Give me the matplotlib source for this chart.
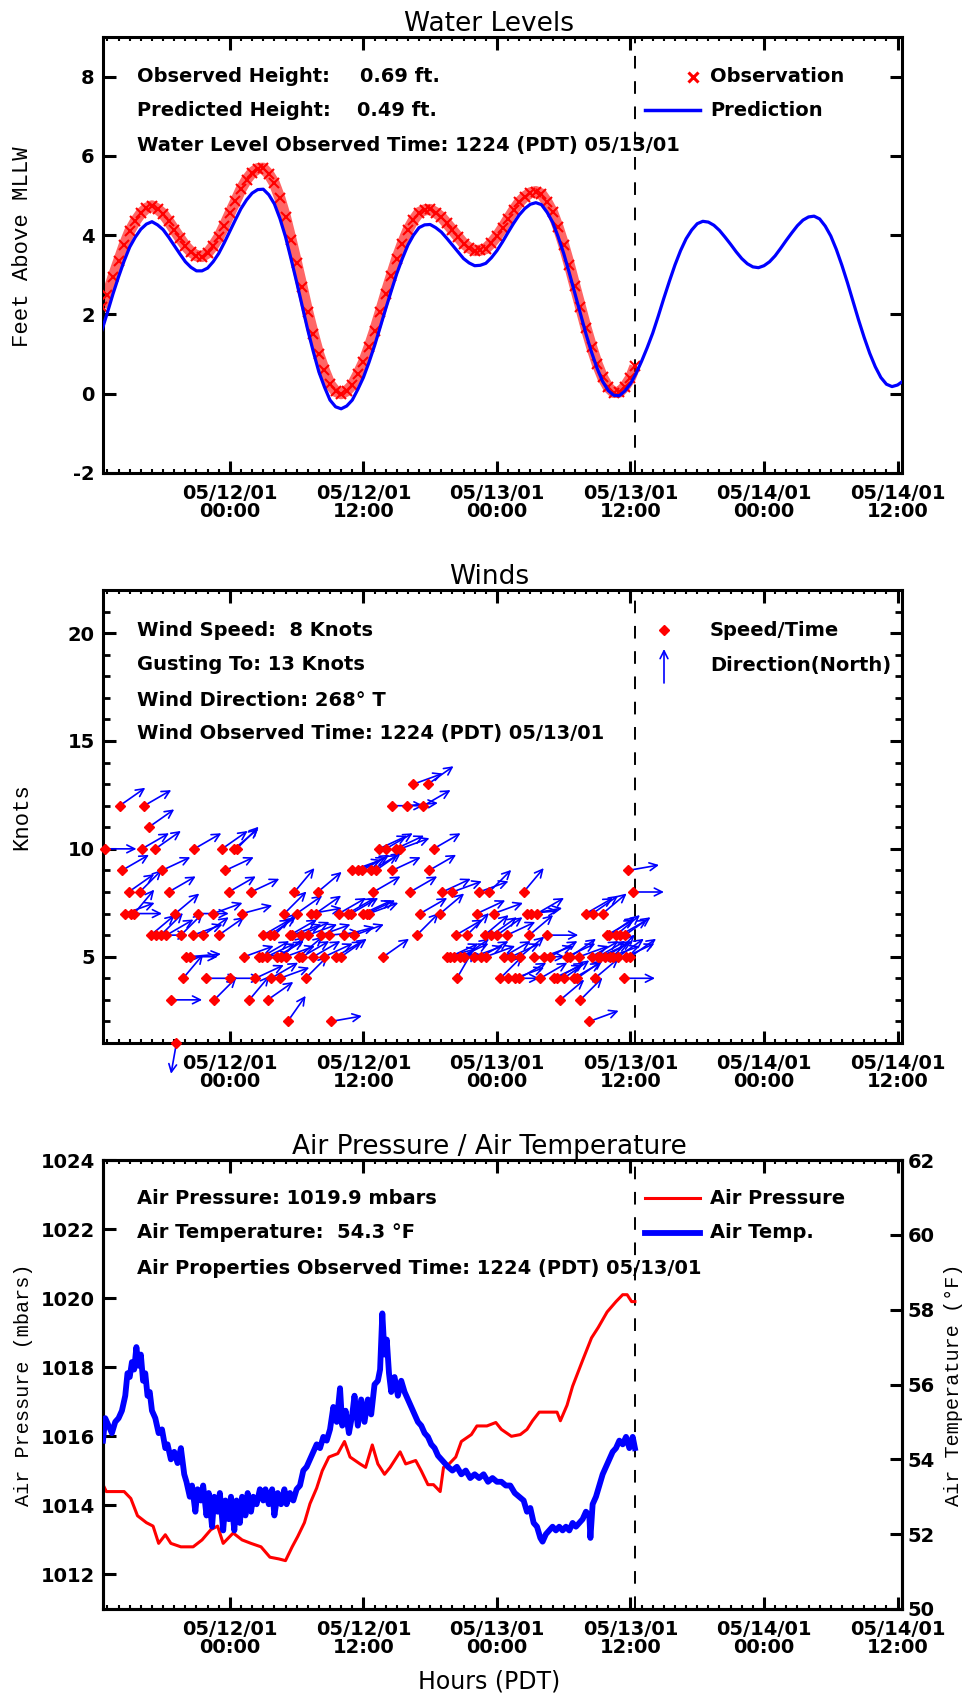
import numpy as np
import matplotlib
matplotlib.use("Agg")
import matplotlib.pyplot as plt
from matplotlib import transforms
from matplotlib.lines import Line2D

# ---------------- data (hours relative to 05/12/01 00:00 PDT) ----------------
XTICK_HOURS = [0, 12, 24, 36, 48, 60]
XTICK_LABELS = ["05/12/01\n00:00", "05/12/01\n12:00", "05/13/01\n00:00",
                "05/13/01\n12:00", "05/14/01\n00:00", "05/14/01\n12:00"]
OBS_HOUR = 36.4   # 1224 PDT 05/13/01

# predicted tide, every half hour starting 05/11 12:30 (-11.5 h)
PRED_START = -11.5
PRED_FT = [1.60, 2.05, 2.52, 2.95, 3.35, 3.70, 3.95, 4.15, 4.28, 4.34, 4.26, 4.14,
           3.95, 3.74, 3.53, 3.33, 3.19, 3.10, 3.10, 3.17, 3.33, 3.54, 3.81, 4.10,
           4.39, 4.67, 4.89, 5.06, 5.15, 5.16, 5.02, 4.79, 4.42, 3.96, 3.40, 2.82,
           2.22, 1.61, 1.06, 0.55, 0.17, -0.16, -0.33, -0.38, -0.31, -0.16, 0.11, 0.41,
           0.79, 1.21, 1.67, 2.14, 2.59, 3.03, 3.41, 3.75, 4.00, 4.19, 4.26, 4.27,
           4.19, 4.08, 3.92, 3.75, 3.58, 3.41, 3.30, 3.23, 3.24, 3.29, 3.43, 3.61,
           3.83, 4.07, 4.30, 4.51, 4.67, 4.78, 4.82, 4.77, 4.58, 4.33, 3.96, 3.54,
           3.05, 2.54, 2.02, 1.51, 1.05, 0.64, 0.31, 0.08, -0.04, -0.05, 0.07, 0.25,
           0.51, 0.82, 1.16, 1.53, 1.96, 2.41, 2.84, 3.25, 3.61, 3.91, 4.13, 4.29,
           4.35, 4.33, 4.25, 4.12, 3.95, 3.77, 3.58, 3.41, 3.28, 3.20, 3.18, 3.23,
           3.33, 3.48, 3.67, 3.87, 4.06, 4.24, 4.38, 4.46, 4.48, 4.41, 4.23, 3.98,
           3.64, 3.24, 2.80, 2.33, 1.86, 1.42, 1.02, 0.68, 0.41, 0.24, 0.18, 0.22,
           0.32, 0.45]

OBS_HOURS = list(np.arange(-11.5, 36.01, 0.5)) + [36.4]
OBS_FT = [2.20, 2.50, 2.95, 3.35, 3.75, 4.10, 4.35, 4.55, 4.68, 4.74, 4.66, 4.54,
          4.35, 4.14, 3.93, 3.73, 3.58, 3.48, 3.46, 3.55, 3.73, 3.95, 4.24, 4.55,
          4.85, 5.16, 5.40, 5.58, 5.68, 5.69, 5.54, 5.31, 4.93, 4.46, 3.89, 3.30,
          2.69, 2.07, 1.51, 0.99, 0.59, 0.24, 0.06, 0.00, 0.07, 0.22, 0.49, 0.79,
          1.17, 1.59, 2.05, 2.52, 2.97, 3.41, 3.79, 4.13, 4.38, 4.57, 4.64, 4.65,
          4.57, 4.46, 4.30, 4.13, 3.96, 3.79, 3.68, 3.61, 3.62, 3.66, 3.80, 3.97,
          4.18, 4.41, 4.63, 4.83, 4.97, 5.07, 5.10, 5.04, 4.84, 4.58, 4.20, 3.76,
          3.26, 2.73, 2.20, 1.67, 1.19, 0.76, 0.41, 0.16, 0.03, 0.04, 0.18, 0.40,
          0.69]

WIND_HOURS = [-11.2, -9.9, -9.7, -9.4, -9.1, -8.9, -8.6, -8.1, -7.9, -7.7, -7.3,
              -7.1, -6.6, -6.7, -6.2, -6.1, -5.7, -5.5, -5.3, -4.9, -4.8, -4.4,
              -4.2, -3.9, -3.6, -3.3, -3.2, -2.9, -2.4, -2.1, -1.5, -1.4, -1.0,
              -0.7, -0.4, -0.1, 0.0, 0.4, 0.6, 1.1, 1.3, 1.75, 1.9, 2.3, 2.6, 2.9,
              3.4, 3.7, 4.0, 4.5, 4.6, 4.9, 5.2, 5.6, 5.8, 6.2, 6.5, 6.8, 7.0, 7.3,
              7.7, 7.9, 8.5, 8.9, 9.1, 9.5, 10.3, 10.6, 11.0, 11.2, 11.5, 11.9,
              12.3, 12.5, 12.9, 13.4, 13.8, 14.0, 14.6, 14.6, 14.9, 15.3, 15.9,
              16.2, 16.5, 16.8, 17.1, 17.4, 17.8, 17.9, 18.3, 18.9, 19.1, 19.5,
              20.0, 20.1, 20.4, 20.7, 21.3, 21.9, 22.2, 22.4, 22.9, 23.3, 23.7,
              24.0, 24.3, 24.6, 24.9, 25.0, 25.6, 26.1, 26.4, 26.7, 27.1, 27.3,
              27.6, 27.9, 28.5, 28.8, 29.1, 29.7, 30.6, 31.4, 31.5, 32.0, 32.3,
              32.6, 32.8, 33.1, 33.5, 33.9, 34.1, 34.4, 34.7, 35.1, 35.4, 35.5,
              35.8, 36.0, 36.2,
              3.0, 3.3, 3.6, 4.2, 5.0, 5.4, 6.0, 6.4, 7.5, 8.2, 9.8, 10.0, 10.9,
              12.0, 12.7, 13.1, 19.8, 20.3, 21.0, 22.6, 23.0, 23.5, 25.3, 26.0,
              26.9, 28.2, 29.4, 30.0, 30.3, 30.9, 31.2, 32.5, 33.3, 33.7, 34.2,
              34.9, 35.6]
WIND_KNOTS = [10, 12, 9, 7, 8, 7, 7, 8, 10, 12, 11,
              6, 6, 10, 6, 9, 6, 8, 3, 7, 1, 6,
              4, 5, 5, 6, 10, 7, 6, 4, 7, 3, 6,
              10, 9, 8, 4, 10, 10, 7, 5, 3, 8, 4, 5, 5,
              3, 4, 6, 4, 5, 7, 2, 6, 8, 5, 5, 4, 6, 7,
              7, 8, 5, 6, 2, 5, 6, 7, 9, 6, 9, 9,
              7, 7, 8, 10, 5, 10, 9, 12, 10, 10, 12,
              8, 13, 6, 7, 12, 13, 9, 10, 7, 8, 5,
              8, 5, 4, 5, 6, 5, 7, 8, 6, 8, 7,
              6, 4, 5, 6, 4, 4, 5, 8, 7, 7, 5,
              7, 4, 6, 5, 4, 3, 5, 5, 3, 7, 2,
              7, 4, 5, 7, 6, 6, 5, 6, 6, 4, 6,
              9, 5, 8,
              6, 5, 6, 5, 5, 6, 7, 6, 5, 6, 7, 5, 7,
              7, 9, 9, 5, 6, 5, 5, 5, 6, 5, 4,
              6, 5, 4, 4, 5, 4, 4, 5, 5, 5, 5,
              5, 5]
WIND_FROM_DEG = [270, 235, 240, 250, 235, 270, 220, 225, 240, 240, 235,
                 230, 270, 235, 225, 245, 240, 240, 270, 230, 10, 225,
                 220, 270, 265, 250, 240, 270, 235, 270, 250, 225, 235,
                 235, 245, 240, 270, 230, 225, 255, 250, 220, 245, 245, 265, 240,
                 235, 240, 225, 250, 230, 225, 215, 250, 220, 230, 240, 225, 250, 260,
                 235, 230, 245, 265, 260, 240, 255, 240, 250, 250, 245, 240,
                 245, 250, 240, 245, 235, 240, 245, 270, 245, 250, 265,
                 240, 250, 225, 240, 240, 235, 240, 240, 230, 245, 255,
                 250, 270, 210, 245, 225, 250, 245, 250, 230, 225, 250,
                 235, 225, 240, 245, 270, 250, 230, 220, 265, 260, 270,
                 240, 240, 270, 240, 245, 230, 235, 250, 225, 240, 250,
                 235, 230, 240, 230, 240, 235, 225, 230, 240, 270, 235,
                 260, 235, 270,
                 240, 245, 235, 240, 250, 240, 235, 245, 240, 250, 240, 235, 240,
                 245, 240, 235, 245, 240, 235, 240, 250, 235, 245, 240,
                 230, 250, 240, 235, 245, 240, 235, 240, 245, 240, 250,
                 235, 245]

PRES_HOURS = [-11.4, -11.1, -10.4, -9.5, -8.9, -8.3, -7.5, -6.9, -6.4, -5.8, -5.3,
              -4.4, -3.3, -2.5, -1.7, -1.1, -0.6, 0.3, 1.1, 1.9, 2.8, 3.6, 4.4,
              5.0, 5.6, 6.1, 6.7, 7.2, 7.8, 8.3, 8.9, 9.7, 10.3, 10.8, 11.7, 12.2,
              12.8, 13.3, 13.9, 14.4, 15.3, 15.8, 16.7, 17.2, 17.8, 18.3, 18.9,
              19.2, 19.7, 20.3, 20.8, 21.7, 22.2, 23.1, 23.9, 24.4, 25.3, 26.1,
              26.7, 27.2, 27.8, 28.6, 29.4, 29.7, 30.3, 30.8, 31.7, 32.5, 33.1,
              33.9, 34.7, 35.3, 35.7, 36.1, 36.4]
PRES_MB = [1014.6, 1014.4, 1014.4, 1014.4, 1014.2, 1013.7, 1013.5, 1013.4, 1012.9,
           1013.15, 1012.9, 1012.8, 1012.8, 1013.0, 1013.3, 1013.4, 1012.9, 1013.2,
           1013.0, 1012.9, 1012.8, 1012.5, 1012.45, 1012.4, 1012.8, 1013.1, 1013.5,
           1014.05, 1014.5, 1015.0, 1015.4, 1015.5, 1015.85, 1015.4, 1015.2, 1015.1,
           1015.75, 1015.2, 1014.9, 1015.1, 1015.55, 1015.2, 1015.3, 1015.0, 1014.6,
           1014.6, 1014.4, 1015.1, 1015.2, 1015.4, 1015.85, 1016.05, 1016.3, 1016.3,
           1016.4, 1016.2, 1016.0, 1016.05, 1016.2, 1016.45, 1016.7, 1016.7, 1016.7,
           1016.45, 1016.9, 1017.45, 1018.2, 1018.85, 1019.15, 1019.6, 1019.9,
           1020.1, 1020.1, 1019.9, 1019.9]

TEMP_HOURS = [-11.4, -11.2, -10.9, -10.6, -10.3, -10.0, -9.7, -9.4, -9.2, -9.0, -8.8,
              -8.6, -8.4, -8.2, -8.0, -7.8, -7.6, -7.4, -7.2, -7.0, -6.7, -6.4,
              -6.1, -5.8, -5.6, -5.3, -5.0, -4.7, -4.4, -4.1, -3.9, -3.6, -3.4,
              -3.1, -2.9, -2.6, -2.4, -2.1, -1.9, -1.6, -1.4, -1.1, -0.9, -0.6,
              -0.4, -0.1, 0.1, 0.4, 0.6, 0.9, 1.1, 1.4, 1.6, 1.9, 2.1, 2.4, 2.7,
              3.0, 3.2, 3.5, 3.8, 4.0, 4.3, 4.6, 4.9, 5.1, 5.4, 5.7, 6.0, 6.3,
              6.6, 6.9, 7.2, 7.5, 7.8, 8.1, 8.4, 8.7, 9.0, 9.3, 9.6, 9.9, 10.1,
              10.4, 10.7, 11.0, 11.2, 11.5, 11.8, 12.1, 12.4, 12.7, 13.0, 13.3,
              13.5, 13.7, 13.9, 14.1, 14.3, 14.5, 14.8, 15.1, 15.4, 15.7, 16.0,
              16.3, 16.6, 16.9, 17.2, 17.5, 17.8, 18.1, 18.4, 18.7, 19.0, 19.3,
              19.6, 20.0, 20.4, 20.8, 21.2, 21.6, 22.0, 22.4, 22.8, 23.2, 23.6,
              24.0, 24.4, 24.8, 25.2, 25.6, 26.0, 26.4, 26.7, 27.0, 27.3, 27.6,
              27.9, 28.1, 28.4, 28.7, 29.0, 29.3, 29.6, 29.9, 30.2, 30.5, 30.8,
              31.1, 31.4, 31.7, 32.0, 32.3, 32.4, 32.6, 32.9, 33.2, 33.5, 33.8,
              34.1, 34.4, 34.7, 35.0, 35.3, 35.6, 35.9, 36.2, 36.4]
TEMP_F = [54.5, 55.1, 54.9, 54.7, 55.0, 55.1, 55.3, 55.7, 56.3, 56.2, 56.6,
          56.4, 57.0, 56.5, 56.8, 56.1, 56.3, 55.7, 55.8, 55.3, 55.1, 54.7,
          54.8, 54.3, 54.4, 54.0, 54.2, 53.9, 54.3, 53.6, 53.4, 53.0, 53.3,
          52.6, 53.2, 52.9, 53.3, 52.5, 53.1, 52.2, 53.0, 52.6, 53.1, 52.1,
          52.9, 52.4, 53.0, 52.1, 52.9, 52.3, 53.0, 52.5, 53.1, 52.6, 53.0, 52.8, 53.2,
          52.9, 53.2, 52.8, 53.2, 52.5, 53.1, 52.8, 53.2, 52.8, 53.1, 52.9, 53.2, 53.3,
          53.7, 53.8, 54.0, 54.2, 54.4, 54.3, 54.6, 54.5, 54.8, 55.4, 55.0, 55.9, 54.9,
          55.3, 54.7, 55.2, 55.7, 54.9, 55.6, 55.0, 55.6, 55.2, 56.0, 56.1,
          56.4, 57.9, 56.8, 57.2, 56.3, 55.8, 56.2, 55.7, 56.1, 55.8, 55.6,
          55.4, 55.2, 55.0, 54.9, 54.7, 54.6, 54.4, 54.3, 54.1, 54.0, 53.9,
          53.8, 53.7, 53.8, 53.6, 53.7, 53.5, 53.6, 53.5, 53.6, 53.4, 53.5,
          53.4, 53.4, 53.3, 53.3, 53.1, 53.0, 52.9, 52.6, 52.7, 52.3, 52.2,
          51.9, 51.8, 52.0, 52.1, 52.2, 52.1, 52.2, 52.1, 52.2, 52.1, 52.3,
          52.2, 52.3, 52.4, 52.6, 52.5, 51.9, 52.8, 53.0, 53.3, 53.6, 53.8,
          54.0, 54.2, 54.3, 54.5, 54.4, 54.6, 54.3, 54.6, 54.3]

# ---------------- figure ----------------
W, H = 972, 1698
plt.rcParams['font.family'] = ['DejaVu Sans']
plt.rcParams['font.weight'] = 'bold'
plt.rcParams['axes.unicode_minus'] = False
fig = plt.figure(figsize=(W / 100, H / 100), dpi=100)
PIX = transforms.Affine2D().scale(1.0 / W, -1.0 / H).translate(0, 1) + fig.transFigure

RED = '#ff0000'
BLUE = '#0000ff'
TXT = 14
MONO = ['Liberation Mono', 'DejaVu Sans Mono']
TITLE_X = 0.483
YLAB_X = -0.088


def rect(l, t, r, b):
    return [l / W, 1 - b / H, (r - l) / W, (b - t) / H]


def style_x(ax):
    ax.set_xlim(-11.4, 60.4)
    ax.set_xticks(XTICK_HOURS)
    ax.set_xticklabels(XTICK_LABELS, fontsize=TXT, fontweight='bold', linespacing=0.92)
    ax.set_xticks(np.arange(-11, 61), minor=True)
    ax.tick_params(axis='x', which='major', direction='in', length=9, width=2.2,
                   top=True, bottom=True, pad=8)
    ax.tick_params(axis='x', which='minor', direction='in', length=3, width=1.5,
                   top=True, bottom=True)
    for s in ax.spines.values():
        s.set_linewidth(2.2)
    ax.axvline(OBS_HOUR, color='black', lw=1.4, linestyle=(0, (6.5, 6.5)), zorder=1)


def ptext(x, y, s, **kw):
    kw.setdefault('fontsize', TXT)
    kw.setdefault('fontweight', 'bold')
    fig.text(x / W, 1 - y / H, s, va='center', ha='left', **kw)


# ---------------- Panel 1: Water levels ----------------
ax1 = fig.add_axes(rect(103, 37, 902, 473))
style_x(ax1)
ax1.set_ylim(-2, 9)
ax1.set_yticks([-2, 0, 2, 4, 6, 8])
ax1.tick_params(axis='y', direction='in', length=9, width=2.2, left=True, right=True,
                labelsize=TXT, pad=6)
pred_hours = PRED_START + 0.5 * np.arange(len(PRED_FT))
ax1.plot(OBS_HOURS, OBS_FT, color=RED, lw=8, alpha=0.6, zorder=2, solid_capstyle='butt')
ax1.plot(OBS_HOURS, OBS_FT, linestyle='none', marker='x', ms=7.5, mew=1.5, color=RED, zorder=3)
ax1.plot(pred_hours, PRED_FT, color=BLUE, lw=2.3, zorder=4)
ax1.set_title('Water Levels', fontsize=19, fontweight='normal', pad=4, x=TITLE_X)
ax1.set_ylabel('Feet Above MLLW', fontfamily=MONO, fontsize=16, fontweight='normal')
ax1.yaxis.set_label_coords(YLAB_X, 0.52)

ptext(137, 77, 'Observed Height:')
ptext(360, 77, '0.69 ft.')
ptext(137, 111, 'Predicted Height:')
ptext(357, 111, '0.49 ft.')
ptext(137, 146, 'Water Level Observed Time: 1224 (PDT) 05/13/01')
fig.add_artist(Line2D([693], [77], transform=PIX, marker='x', ms=6.5, mew=2.2, color=RED))
fig.add_artist(Line2D([645, 700], [110, 110], transform=PIX, lw=2.5, color=BLUE))
ptext(710, 77, 'Observation')
ptext(710, 111, 'Prediction')

# ---------------- Panel 2: Winds ----------------
ax2 = fig.add_axes(rect(103, 590, 902, 1043))
style_x(ax2)
ax2.set_ylim(1, 22)
ax2.set_yticks([5, 10, 15, 20])
ax2.set_yticks(np.arange(1, 23), minor=True)
ax2.tick_params(axis='y', which='major', direction='in', length=9, width=2.2,
                left=True, right=True, labelsize=TXT, pad=6)
ax2.tick_params(axis='y', which='minor', direction='in', length=5, width=2.0,
                left=True, right=True)
ARROW_PT = 22.5
for h, k, d in zip(WIND_HOURS, WIND_KNOTS, WIND_FROM_DEG):
    b = np.deg2rad(d + 180.0)
    dx, dy = ARROW_PT * np.sin(b), ARROW_PT * np.cos(b)
    head = ax2.transData + transforms.ScaledTranslation(dx / 72.0, dy / 72.0,
                                                        fig.dpi_scale_trans)
    ax2.annotate('', xy=(h, k), xycoords=head, xytext=(h, k), textcoords='data',
                 annotation_clip=False,
                 arrowprops=dict(arrowstyle='->', color=BLUE, lw=1.2,
                                 shrinkA=0, shrinkB=0, mutation_scale=14))
ax2.plot(WIND_HOURS, WIND_KNOTS, linestyle='none', marker='D', ms=5.5, color=RED,
         mec=RED, zorder=5, clip_on=False)
ax2.set_title('Winds', fontsize=19, fontweight='normal', pad=4, x=TITLE_X)
ax2.set_ylabel('Knots', fontfamily=MONO, fontsize=16, fontweight='normal')
ax2.yaxis.set_label_coords(YLAB_X, 0.5)

ptext(137, 630, 'Wind Speed:  8 Knots')
ptext(137, 665, 'Gusting To: 13 Knots')
ptext(137, 700, 'Wind Direction: 268° T')
ptext(137, 734, 'Wind Observed Time: 1224 (PDT) 05/13/01')
fig.add_artist(Line2D([664], [630], transform=PIX, marker='D', ms=5.5, color=RED))
ax2.annotate('', xy=(664, 649), xycoords=PIX, xytext=(664, 683), textcoords=PIX,
             annotation_clip=False,
             arrowprops=dict(arrowstyle='->', color=BLUE, lw=1.2, shrinkA=0,
                             shrinkB=0, mutation_scale=14))
ptext(710, 630, 'Speed/Time')
ptext(710, 665, 'Direction(North)')

# ---------------- Panel 3: Air pressure / temperature ----------------
ax3 = fig.add_axes(rect(103, 1160, 902, 1609))
ax3r = ax3.twinx()
style_x(ax3)
ax3.set_ylim(1011, 1024)
ax3.set_yticks([1012, 1014, 1016, 1018, 1020, 1022, 1024])
ax3.tick_params(axis='y', direction='in', length=9, width=2.2, left=True, right=False,
                labelsize=TXT, pad=6)
ax3r.set_ylim(50, 62)
ax3r.set_yticks([50, 52, 54, 56, 58, 60, 62])
ax3r.tick_params(axis='y', direction='in', length=9, width=2.2, right=True, left=False,
                 labelsize=TXT, pad=4)
for s in ax3r.spines.values():
    s.set_linewidth(2.2)
for lbl in ax3.get_yticklabels() + ax3r.get_yticklabels():
    lbl.set_fontweight('bold')
ax3.plot(PRES_HOURS, PRES_MB, color=RED, lw=2.2, zorder=3)
ax3r.plot(TEMP_HOURS, TEMP_F, color=BLUE, lw=4.2, zorder=3)
ax3.set_title('Air Pressure / Air Temperature', fontsize=19, fontweight='normal', pad=4,
              x=TITLE_X)
ax3.set_ylabel('Air Pressure (mbars)', fontfamily=MONO, fontsize=14.5, fontweight='normal')
ax3.yaxis.set_label_coords(YLAB_X, 0.5)
ax3r.set_ylabel('Air Temperature (°F)', fontfamily=MONO, fontsize=14.5,
                fontweight='normal', rotation=90)
ax3r.yaxis.set_label_coords(1.052, 0.5)
ax3.set_xlabel('Hours (PDT)', fontsize=17, fontweight='normal', labelpad=12)
ax3.xaxis.set_label_coords(TITLE_X, -0.135)

ptext(137, 1198, 'Air Pressure: 1019.9 mbars')
ptext(137, 1233, 'Air Temperature:  54.3 °F')
ptext(137, 1268, 'Air Properties Observed Time: 1224 (PDT) 05/13/01')
fig.add_artist(Line2D([645, 700], [1198, 1198], transform=PIX, lw=2.2, color=RED))
fig.add_artist(Line2D([645, 700], [1233, 1233], transform=PIX, lw=4.2, color=BLUE))
ptext(710, 1198, 'Air Pressure')
ptext(710, 1233, 'Air Temp.')

fig.savefig('out.png', dpi=100)
